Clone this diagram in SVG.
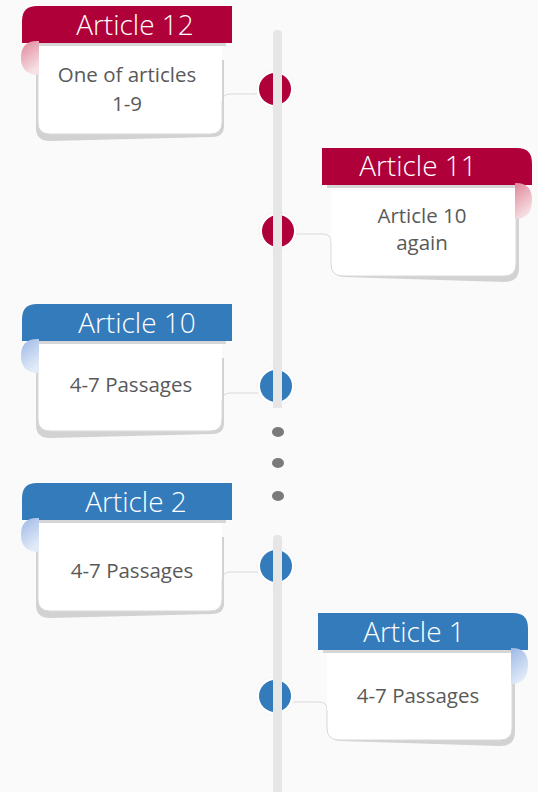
<svg xmlns="http://www.w3.org/2000/svg" width="538" height="792" viewBox="0 0 538 792">
<defs>
<linearGradient id="gRed" x1="0" y1="0" x2="0.4" y2="1"><stop offset="0" stop-color="#e08598"/><stop offset="1" stop-color="#f6e1e5"/></linearGradient>
<linearGradient id="gBlue" x1="0" y1="0" x2="0.4" y2="1"><stop offset="0" stop-color="#9db8e6"/><stop offset="1" stop-color="#e2ebf8"/></linearGradient>
<style>
.hdr{font-family:"Open Sans","Liberation Sans",sans-serif;font-weight:300;font-size:28px;fill:#ffffff;text-anchor:middle}
.body{font-family:"Open Sans","Liberation Sans",sans-serif;font-weight:400;font-size:20.5px;fill:#595959;text-anchor:middle}
.card{fill:#ffffff}
.edge{fill:none;stroke:#d9d9d9;stroke-width:1}
.shadow{fill:#d2d2d2}
.strip{fill:#d6d6d6}
.red{fill:#b0003a}
.blue{fill:#347bbb}
.bar{fill:#e6e6e6}
.halo{fill:#ffffff;stroke:#ececec;stroke-width:0.6}
.dot{fill:#7a7a7a}
</style>
</defs>
<rect width="538" height="792" fill="#fafafa"/>

<g id="timeline">
<rect class="bar" x="273" y="30" width="9" height="378" rx="4"/>
<rect class="bar" x="273" y="535" width="9" height="262" rx="4"/>
<ellipse class="dot" cx="278" cy="432" rx="6" ry="5"/>
<ellipse class="dot" cx="278" cy="463" rx="6" ry="5"/>
<ellipse class="dot" cx="278" cy="496" rx="6" ry="5"/>
</g>

<g id="connectors">
<path class="edge" d="M260,94 H230 Q222,94 222,102"/>
<path class="edge" d="M294,234 H323 Q331,234 331,242"/>
<path class="edge" d="M260,393 H230 Q222,393 222,401"/>
<path class="edge" d="M260,572 H230 Q222,572 222,580"/>
<path class="edge" d="M291,702 H319 Q327,702 327,710"/>
</g>

<g id="article12">
<path class="shadow" d="M36,60 V128 Q36,141 50,141 L212,137 Q223,137 224,128 V60 Z"/>
<path class="card" d="M38,43 H222 V122 Q222,134 210,134 H50 Q38,134 38,122 Z"/>
<path class="edge" d="M222,102 V122 Q222,134 210,134 H50 Q38,134 38,122 V60"/>
<rect class="strip" x="38" y="43" width="188" height="3"/>
<path class="red" d="M37,6 H232 V43 H22 V21 Q22,6 37,6 Z"/>
<path fill="url(#gRed)" d="M39,41 H37 Q21,41 21,58 Q21,75 39,75 Z"/>
<text class="hdr" x="135" y="35">Article 12</text>
<text class="body" x="127" y="82">One of articles</text>
<text class="body" x="127" y="111">1-9</text>
<circle class="halo" cx="275" cy="89" r="19"/>
<circle class="red" cx="275" cy="89" r="16"/>
<rect class="bar" x="273" y="70" width="9" height="40"/>
</g>

<g id="article11">
<path class="shadow" d="M333,200 V268 Q334,277 345,277 L504,282 Q519,282 519,268 V200 Z"/>
<path class="card" d="M331,185 H516 V264 Q516,276 504,276 H343 Q331,276 331,264 Z"/>
<path class="edge" d="M331,242 V264 Q331,276 343,276 H504 Q516,276 516,264 V200"/>
<rect class="strip" x="327" y="185" width="189" height="3"/>
<path class="red" d="M322,148 H517 Q532,148 532,163 V185 H322 Z"/>
<path fill="url(#gRed)" d="M515,183 H516 Q532,183 532,200 Q532,219 515,219 Z"/>
<text class="hdr" x="418" y="176">Article 11</text>
<text class="body" x="422" y="223">Article 10</text>
<text class="body" x="422" y="250">again</text>
<circle class="halo" cx="278" cy="231" r="19"/>
<circle class="red" cx="278" cy="231" r="16"/>
<rect class="bar" x="273" y="212" width="9" height="40"/>
</g>

<g id="article10">
<path class="shadow" d="M36,358 V425 Q36,438 50,438 L212,434 Q223,434 224,425 V358 Z"/>
<path class="card" d="M38,341 H222 V419 Q222,431 210,431 H50 Q38,431 38,419 Z"/>
<path class="edge" d="M222,401 V419 Q222,431 210,431 H50 Q38,431 38,419 V358"/>
<rect class="strip" x="38" y="341" width="188" height="3"/>
<path class="blue" d="M37,304 H232 V341 H22 V319 Q22,304 37,304 Z"/>
<path fill="url(#gBlue)" d="M39,339 H37 Q21,339 21,356 Q21,373 39,373 Z"/>
<text class="hdr" x="137" y="333">Article 10</text>
<text class="body" x="131" y="392">4-7 Passages</text>
<circle class="halo" cx="276" cy="386" r="19"/>
<circle class="blue" cx="276" cy="386" r="16"/>
<rect class="bar" x="273" y="367" width="9" height="41"/>
</g>

<g id="article2">
<path class="shadow" d="M36,537 V605 Q36,618 50,618 L212,614 Q223,614 224,605 V537 Z"/>
<path class="card" d="M38,520 H222 V599 Q222,611 210,611 H50 Q38,611 38,599 Z"/>
<path class="edge" d="M222,580 V599 Q222,611 210,611 H50 Q38,611 38,599 V537"/>
<rect class="strip" x="38" y="520" width="188" height="3"/>
<path class="blue" d="M37,483 H232 V520 H22 V498 Q22,483 37,483 Z"/>
<path fill="url(#gBlue)" d="M39,518 H37 Q21,518 21,535 Q21,552 39,552 Z"/>
<text class="hdr" x="136" y="512">Article 2</text>
<text class="body" x="132" y="578">4-7 Passages</text>
<circle class="halo" cx="276" cy="566" r="19"/>
<circle class="blue" cx="276" cy="566" r="16"/>
<rect class="bar" x="273" y="547" width="9" height="40"/>
</g>

<g id="article1">
<path class="shadow" d="M329,665 V732 Q330,741 341,741 L500,746 Q515,746 515,732 V665 Z"/>
<path class="card" d="M327,650 H512 V728 Q512,740 500,740 H339 Q327,740 327,728 Z"/>
<path class="edge" d="M327,710 V728 Q327,740 339,740 H500 Q512,740 512,728 V665"/>
<rect class="strip" x="323" y="650" width="189" height="3"/>
<path class="blue" d="M318,613 H513 Q528,613 528,628 V650 H318 Z"/>
<path fill="url(#gBlue)" d="M511,648 H512 Q528,648 528,665 Q528,684 511,684 Z"/>
<text class="hdr" x="414" y="642">Article 1</text>
<text class="body" x="418" y="703">4-7 Passages</text>
<circle class="halo" cx="275" cy="696" r="19"/>
<circle class="blue" cx="275" cy="696" r="16"/>
<rect class="bar" x="273" y="677" width="9" height="40"/>
</g>
</svg>
